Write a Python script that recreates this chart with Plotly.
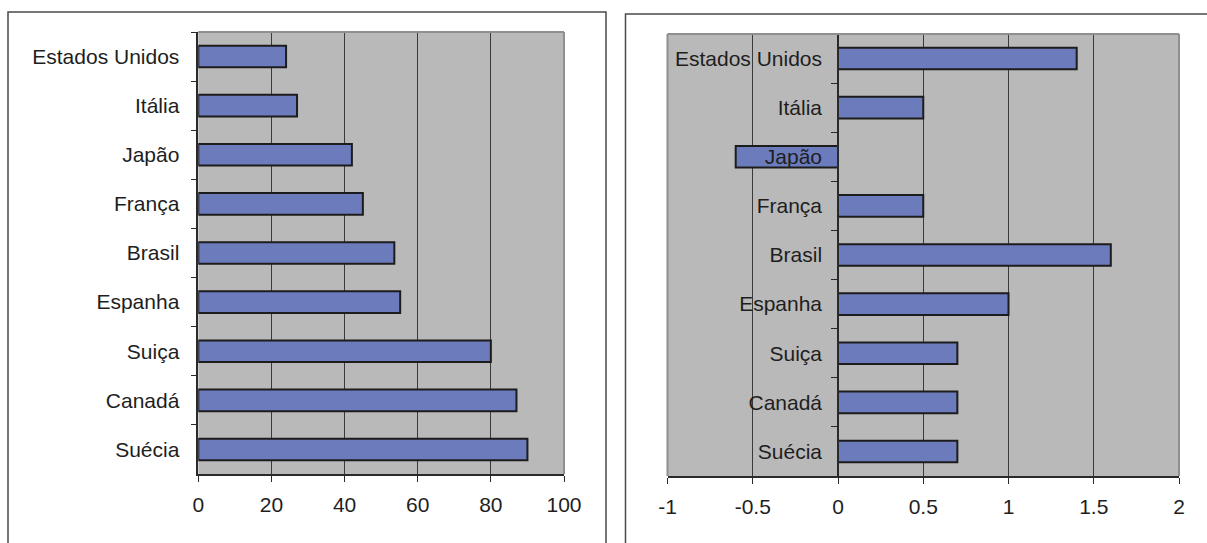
import plotly.graph_objects as go

# Countries, listed top to bottom as they appear on both charts
countries = ["Estados Unidos", "Itália", "Japão", "França", "Brasil",
             "Espanha", "Suiça", "Canadá", "Suécia"]

# Left chart values (0-100 scale)
left_values = [24, 27, 42, 45, 53.6, 55.2, 80, 87, 90]

# Right chart values
right_values = [1.4, 0.5, -0.6, 0.5, 1.6, 1.0, 0.7, 0.7, 0.7]

left_ticks = [0, 20, 40, 60, 80, 100]
right_ticks = [-1, -0.5, 0, 0.5, 1, 1.5, 2]

W, H = 1207, 543
BAR_FILL = "#6c7bbb"
BAR_EDGE = "#1c1c1c"
PLOT_BG = "#b9b9b9"
GRID = "#3a3a3a"
BORDER = "#8c9091"
AXIS = "#2a2a2a"
FRAME = "#4a4a4a"
FONT = dict(family="Liberation Sans, Arial, sans-serif", size=21, color="#1e1e1e")


def px_x(v):
    return v / W


def px_y(v):
    return (H - v) / H


# plot-area pixel boxes
L_X0, L_X1, L_Y0, L_Y1 = 198.3, 564.0, 32.0, 474.0
R_X0, R_X1, R_Y0, R_Y1 = 667.5, 1179.0, 34.0, 476.0
R_ZERO = R_X0 + (0 - right_ticks[0]) / (right_ticks[-1] - right_ticks[0]) * (R_X1 - R_X0)

fig = go.Figure()

fig.add_trace(go.Bar(
    x=left_values, y=countries, orientation="h", width=0.44,
    marker=dict(color=BAR_FILL, line=dict(color=BAR_EDGE, width=2)),
    xaxis="x", yaxis="y", showlegend=False, hoverinfo="x+y",
))
fig.add_trace(go.Bar(
    x=right_values, y=countries, orientation="h", width=0.44,
    marker=dict(color=BAR_FILL, line=dict(color=BAR_EDGE, width=2)),
    xaxis="x2", yaxis="y2", showlegend=False, hoverinfo="x+y",
))

xcommon = dict(
    showgrid=True, gridcolor=GRID, gridwidth=1, zeroline=False,
    showline=True, linecolor=AXIS, linewidth=1.5,
    ticks="outside", ticklen=6, tickcolor=AXIS, tickwidth=1,
    tickfont=FONT, ticklabelstandoff=5, fixedrange=True, automargin=False,
)
ycommon = dict(
    type="category", autorange="reversed", showgrid=False, zeroline=False,
    showline=True, linecolor=AXIS, linewidth=1.5,
    ticks="outside", ticklen=6, tickcolor=AXIS, tickwidth=1,
    tickson="boundaries", tickfont=FONT, fixedrange=True, automargin=False,
)

fig.update_layout(
    width=W, height=H, autosize=False,
    margin=dict(l=0, r=0, t=0, b=0, pad=0),
    paper_bgcolor="white", plot_bgcolor=PLOT_BG,
    bargap=0.56,
    xaxis=dict(
        xcommon, domain=[px_x(L_X0), px_x(L_X1)], anchor="y",
        range=[left_ticks[0], left_ticks[-1]], tickvals=left_ticks,
        ticktext=[str(t) for t in left_ticks],
    ),
    yaxis=dict(
        ycommon, domain=[px_y(L_Y1), px_y(L_Y0)], anchor="x",
        ticklabelstandoff=13,
    ),
    xaxis2=dict(
        xcommon, domain=[px_x(R_X0), px_x(R_X1)], anchor="y2",
        range=[right_ticks[0], right_ticks[-1]], tickvals=right_ticks,
        ticktext=[f"{t:g}" for t in right_ticks],
    ),
    yaxis2=dict(
        ycommon, domain=[px_y(R_Y1), px_y(R_Y0)], anchor="free",
        position=px_x(R_ZERO), ticklabelstandoff=11,
    ),
)

shapes = []
# light border on the open sides of each plot area
shapes.append(dict(type="line", xref="paper", yref="paper",
                   x0=px_x(L_X0), x1=px_x(L_X1), y0=px_y(L_Y0), y1=px_y(L_Y0),
                   line=dict(color=BORDER, width=2)))
shapes.append(dict(type="line", xref="paper", yref="paper",
                   x0=px_x(L_X1), x1=px_x(L_X1), y0=px_y(L_Y0), y1=px_y(L_Y1),
                   line=dict(color=BORDER, width=2)))
shapes.append(dict(type="line", xref="paper", yref="paper",
                   x0=px_x(R_X0), x1=px_x(R_X1), y0=px_y(R_Y0), y1=px_y(R_Y0),
                   line=dict(color=BORDER, width=2)))
shapes.append(dict(type="line", xref="paper", yref="paper",
                   x0=px_x(R_X1), x1=px_x(R_X1), y0=px_y(R_Y0), y1=px_y(R_Y1),
                   line=dict(color=BORDER, width=2)))
shapes.append(dict(type="line", xref="paper", yref="paper",
                   x0=px_x(R_X0), x1=px_x(R_X0), y0=px_y(R_Y0), y1=px_y(R_Y1),
                   line=dict(color=BORDER, width=2)))
# outer chart frames
shapes.append(dict(type="rect", xref="paper", yref="paper",
                   x0=px_x(8), x1=px_x(606), y0=-0.1, y1=px_y(12),
                   line=dict(color=FRAME, width=1.5), fillcolor="rgba(0,0,0,0)"))
shapes.append(dict(type="rect", xref="paper", yref="paper",
                   x0=px_x(625.5), x1=1.1, y0=-0.1, y1=px_y(14),
                   line=dict(color=FRAME, width=1.5), fillcolor="rgba(0,0,0,0)"))
fig.update_layout(shapes=shapes)

fig.write_html("out.html")
